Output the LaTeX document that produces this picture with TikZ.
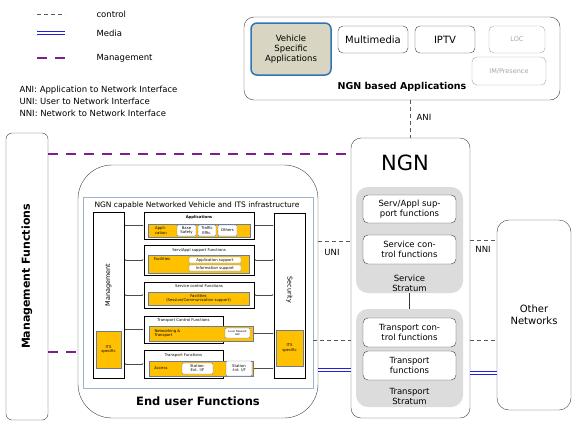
\documentclass[tikz,border=0pt]{standalone}
\usepackage{fontspec}
\setmainfont{DejaVu Sans}
\usetikzlibrary{arrows.meta}
\definecolor{itsyellow}{HTML}{FFC000}
\definecolor{vsafill}{HTML}{D8D5C2}
\definecolor{vsaedge}{HTML}{2E75B6}
\definecolor{mgmtpurple}{HTML}{7F1F8F}
\definecolor{mediablue}{HTML}{2020E0}
\definecolor{inneredge}{HTML}{9DB3CF}
\definecolor{yellowedge}{HTML}{6D7B94}
\definecolor{stratumgray}{HTML}{DCDCDC}
\newcommand\layerfont{\fontsize{3.8}{4.4}\selectfont}
\newcommand\smallfont{\fontsize{8.5}{10}\selectfont}
\begin{document}
\begin{tikzpicture}[x=1pt,y=-1pt,
    box/.style={draw=black!75, fill=white, rounded corners=#1, inner sep=1pt, align=center},
    box/.default=5pt,
    stratum/.style={fill=stratumgray, rounded corners=12pt},
    layer/.style={draw=black, fill=white, line width=0.6pt, inner sep=0pt},
    bar/.style={draw=yellowedge, fill=itsyellow, line width=0.7pt, inner sep=0pt, align=center},
    chip/.style={draw=yellowedge, fill=white, rounded corners=1pt, inner sep=0pt, align=center},
    ctrl/.style={gray!70!black, line width=0.8pt, dash pattern=on 4pt off 3pt},
    media/.style={draw=mediablue, double=white, double distance=1.2pt, line width=1pt},
    mgmt/.style={mgmtpurple, line width=2pt, dash pattern=on 10pt off 8pt},
    link/.style={black!70, line width=0.4pt, {Latex[length=1.8pt,width=1.6pt]}-{Latex[length=1.8pt,width=1.6pt]}}]
    \useasboundingbox (0,0) rectangle (576,426);
    % legend
    \coordinate (lc1) at (37,14);  \coordinate (lc2) at (65,14);
    \coordinate (lm1) at (37,33);  \coordinate (lm2) at (65,33);
    \coordinate (lg1) at (37,58);  \coordinate (lg2) at (65,58);
    \draw[ctrl] (lc1) -- (lc2);
    \draw[media] (lm1) -- (lm2);
    \draw[mgmt] (lg1) -- (lg2);
    \node[anchor=west, font=\smallfont] (lctrl) at (93,14) {control};
    \node[anchor=west, font=\smallfont] (lmedia) at (93,33) {Media};
    \node[anchor=west, font=\smallfont] (lmgmt) at (93,58) {Management};
    \node[anchor=west, align=left, font=\fontsize{8.5}{12}\selectfont] (ifaces) at (16,101)
        {ANI: Application to Network Interface\\UNI: User to Network Interface\\NNI: Network to Network Interface};
    % NGN based applications
    \node[box=10pt, minimum width=316pt, minimum height=83pt] (apps) at (402,58.5) {};
    \node[box=6pt, fill=vsafill, draw=vsaedge, line width=1.5pt, minimum width=80pt, minimum height=52pt,
        font=\smallfont] (vsa) at (291,49) {Vehicle\\Specific\\Applications};
    \node[box, minimum width=70pt, minimum height=27pt, font=\fontsize{10}{12}\selectfont] (mm) at (373,39.5) {Multimedia};
    \node[box, minimum width=60pt, minimum height=27pt, font=\fontsize{10}{12}\selectfont] (iptv) at (445,39.5) {IPTV};
    \node[box, draw=gray!70, text=gray!70, minimum width=56pt, minimum height=27pt, font=\fontsize{6.5}{8}\selectfont] (loc) at (517,39.5) {LOC};
    \node[box, draw=gray!70, text=gray!70, minimum width=74pt, minimum height=28pt, font=\fontsize{6.5}{8}\selectfont] (imp) at (509,71) {IM/Presence};
    \node[font=\bfseries\fontsize{9.5}{11}\selectfont] (appstitle) at (402,87) {NGN based Applications};
    % NGN
    \node[box=10pt, minimum width=119pt, minimum height=280pt] (ngn) at (410.5,278) {};
    \node[font=\fontsize{21}{25}\selectfont] (ngntitle) at (405,163) {NGN};
    \node[stratum, minimum width=107pt, minimum height=106pt] (servstr) at (409.5,240) {};
    \node[stratum, minimum width=107pt, minimum height=98pt] (trstr) at (409.5,358) {};
    \draw[black!80] (servstr.south) -- (trstr.north);
    \node[box, minimum width=93pt, minimum height=28pt, font=\smallfont] (sasf) at (409.5,209) {Serv/Appl sup-\\port functions};
    \node[box, minimum width=93pt, minimum height=29pt, font=\smallfont] (scf) at (409.5,249.5) {Service con-\\trol functions};
    \node[font=\smallfont, align=center] (servlbl) at (409.5,283) {Service\\Stratum};
    \node[box, minimum width=93pt, minimum height=29pt, font=\smallfont] (tcf) at (409.5,332.5) {Transport con-\\trol functions};
    \node[box, minimum width=93pt, minimum height=29pt, font=\smallfont] (tf) at (409.5,365.5) {Transport\\functions};
    \node[font=\smallfont, align=center] (trlbl) at (409.5,396) {Transport\\Stratum};
    % other networks
    \node[box=12pt, minimum width=74pt, minimum height=190pt, font=\fontsize{10}{12}\selectfont] (other) at (534,315) {Other\\Networks};
    % management functions
    \node[box=6pt, minimum width=42pt, minimum height=287pt] (mgf) at (27,276.5) {};
    \node[rotate=90, font=\bfseries\fontsize{11}{13}\selectfont] (mgflbl) at (27,276.5) {Management Functions};
    % end user functions
    \node[box=34pt, minimum width=240pt, minimum height=253pt] (euf) at (198,291.5) {};
    \node[draw=inneredge, line width=1pt, minimum width=230pt, minimum height=191pt, inner sep=0pt] (inner) at (198,292.5) {};
    \node[font=\fontsize{7.5}{9}\selectfont] (innertitle) at (197,205) {NGN capable Networked Vehicle and ITS infrastructure};
    \node[font=\bfseries\fontsize{11.5}{13}\selectfont] (eufttl) at (198,401) {End user Functions};
    % side columns
    \node[layer, minimum width=31pt, minimum height=166pt] (mcol) at (108.5,295) {};
    \node[rotate=90, font=\fontsize{6.5}{8}\selectfont] (mcollbl) at (108.5,285) {Management};
    \node[bar, minimum width=25pt, minimum height=37pt, font=\layerfont] (mits) at (108.5,349.5) {ITS\\specific};
    \node[layer, minimum width=31pt, minimum height=165pt] (scol) at (289.5,295.5) {};
    \node[rotate=-90, font=\fontsize{6.5}{8}\selectfont] (scollbl) at (289.5,290) {Security};
    \node[bar, minimum width=27pt, minimum height=36pt, font=\layerfont] (sits) at (289.5,348) {ITS\\specific};
    % layers
    \node[layer, minimum width=110pt, minimum height=27pt] (lapp) at (199,225.5) {};
    \node[font=\layerfont\bfseries] (lapptitle) at (199,217.5) {Applications};
    \node[bar, minimum width=102pt, minimum height=13pt] (yapp) at (199,230.5) {};
    \node[font=\layerfont, align=left] (applbl) at (161,230.5) {Appli-\\cation};
    \node[chip, minimum width=19pt, minimum height=11pt, font=\layerfont] (bsafe) at (186.5,230.5) {Base\\Safety};
    \node[chip, minimum width=18pt, minimum height=11pt, font=\layerfont] (teffic) at (207,230.5) {Traffic\\Effic.};
    \node[chip, minimum width=19pt, minimum height=11pt, font=\layerfont] (others) at (227.5,230.5) {Others};
    \node[layer, minimum width=110pt, minimum height=30pt] (lsas) at (199,260) {};
    \node[font=\layerfont] (lsastitle) at (199,250) {Serv/Appl support Functions};
    \node[bar, minimum width=101pt, minimum height=18pt] (ysas) at (198.5,264) {};
    \node[font=\layerfont] (faclbl) at (162,259) {Facilities};
    \node[chip, rounded corners=0.5pt, minimum width=52pt, minimum height=6pt, font=\layerfont] (appsup) at (215,260) {Application support};
    \node[chip, rounded corners=0.5pt, minimum width=52pt, minimum height=6pt, font=\layerfont] (infsup) at (215,268) {Information support};
    \node[layer, minimum width=110pt, minimum height=26pt] (lscf) at (199,295) {};
    \node[font=\layerfont] (lscftitle) at (199,286.5) {Service control Functions};
    \node[bar, minimum width=101pt, minimum height=13pt, font=\layerfont] (yscf) at (198.5,298.5) {Facilities\\(Session/Communication support)};
    \node[layer, minimum width=79pt, minimum height=27pt] (ltcf) at (183.5,329.5) {};
    \node[font=\layerfont] (ltcftitle) at (183.5,320) {Transport Control Functions};
    \node[bar, minimum width=104pt, minimum height=15pt] (ytcf) at (201,333.5) {};
    \node[font=\layerfont, align=left, anchor=west] (nwlbl) at (151,333.5) {Networking \&\\Transport};
    \node[chip, minimum width=25pt, minimum height=10pt, font=\fontsize{2.6}{3}\selectfont] (nwbox) at (237.5,333) {Local Network\\GW};
    \node[layer, minimum width=79pt, minimum height=28pt] (ltf) at (183.5,364) {};
    \node[font=\layerfont] (ltftitle) at (183.5,355) {Transport Functions};
    \node[bar, minimum width=104pt, minimum height=15pt] (ytf) at (201,368.5) {};
    \node[font=\layerfont] (acclbl) at (161,368.5) {Access};
    \node[chip, minimum width=31pt, minimum height=11pt, font=\layerfont] (extif) at (197.5,368.5) {Station-\\Ext. I/F};
    \node[chip, minimum width=26pt, minimum height=15pt, font=\layerfont] (intif) at (239,368.5) {Station\\-Int. I/F};
    % layer links
    \foreach \lay in {lapp,lsas,lscf,ltcf,ltf}
        \draw[link] (mcol.east |- \lay.west) -- (\lay.west);
    \foreach \lay in {lapp,lsas,lscf,ytcf,ytf}
        \draw[link] (\lay.east) -- (scol.west |- \lay.east);
    % interfaces
    \draw[ctrl] (ngn.north |- apps.south) -- (ngn.north);
    \node[font=\smallfont] (ani) at (424,117) {ANI};
    \coordinate (m1) at (48,154);
    \coordinate (m2) at (48,352);
    \draw[mgmt] (m1) -- (m1 -| ngn.west);
    \draw[mgmt] (m2) -- (m2 -| euf.west);
    \coordinate (u1) at (318,241);
    \coordinate (u2) at (313,340);
    \coordinate (u3) at (318,370);
    \draw[ctrl] (u1) -- (u1 -| ngn.west);
    \draw[ctrl] (u2) -- (u2 -| ngn.west);
    \draw[media] (u3) -- (u3 -| ngn.west);
    \node[font=\smallfont] (uni) at (332,252) {UNI};
    \coordinate (n1) at (470,240);
    \coordinate (n2) at (470,340);
    \coordinate (n3) at (470,373);
    \draw[ctrl] (n1) -- (n1 -| other.west);
    \draw[ctrl] (n2) -- (n2 -| other.west);
    \draw[media] (n3) -- (n3 -| other.west);
    \node[font=\smallfont] (nni) at (483,249) {NNI};
\end{tikzpicture}
\end{document}
